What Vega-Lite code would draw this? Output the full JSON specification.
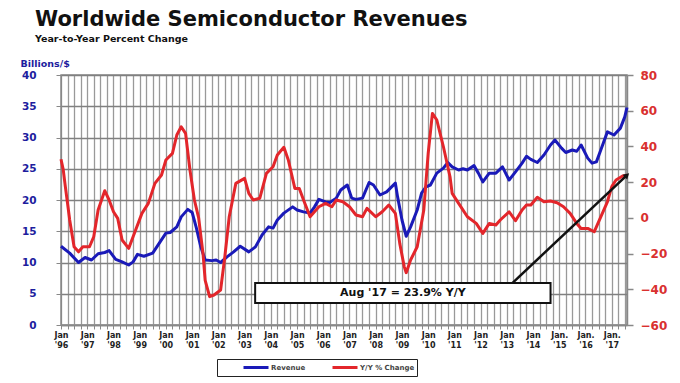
{
  "$schema": "https://vega.github.io/schema/vega-lite/v6.json",
  "autosize": "none",
  "width": 566,
  "height": 250,
  "padding": {"left": 61, "top": 75, "right": 53, "bottom": 58},
  "background": "white",
  "title": {
    "text": "Worldwide Semiconductor Revenues",
    "subtitle": "Year-to-Year Percent Change",
    "anchor": "start",
    "frame": "group",
    "dx": -26,
    "offset": 15,
    "font": "DejaVu Sans",
    "fontSize": 21,
    "fontWeight": "bold",
    "color": "#111111",
    "subtitleFont": "DejaVu Sans",
    "subtitleFontSize": 9.5,
    "subtitleFontWeight": "bold",
    "subtitleColor": "#111111",
    "subtitlePadding": 4
  },
  "config": {
    "view": {"stroke": "#888888", "strokeWidth": 1.5}
  },
  "datasets": {
    "revenue": [
      {"date": "1996-01", "value": 12.6}, {"date": "1996-05", "value": 11.5}, {"date": "1996-09", "value": 10.0}, {"date": "1996-12", "value": 10.8},
      {"date": "1997-03", "value": 10.4}, {"date": "1997-06", "value": 11.4}, {"date": "1997-09", "value": 11.6}, {"date": "1997-11", "value": 11.9},
      {"date": "1998-02", "value": 10.5}, {"date": "1998-05", "value": 10.1}, {"date": "1998-08", "value": 9.6}, {"date": "1998-10", "value": 10.1},
      {"date": "1998-12", "value": 11.3}, {"date": "1999-03", "value": 11.0}, {"date": "1999-07", "value": 11.5}, {"date": "1999-10", "value": 13.1},
      {"date": "2000-01", "value": 14.7}, {"date": "2000-03", "value": 14.8}, {"date": "2000-06", "value": 15.7}, {"date": "2000-08", "value": 17.3},
      {"date": "2000-11", "value": 18.5}, {"date": "2001-01", "value": 18.0}, {"date": "2001-03", "value": 15.5}, {"date": "2001-05", "value": 12.5},
      {"date": "2001-07", "value": 10.4}, {"date": "2001-10", "value": 10.3}, {"date": "2001-12", "value": 10.4}, {"date": "2002-02", "value": 10.0},
      {"date": "2002-05", "value": 10.9}, {"date": "2002-08", "value": 11.7}, {"date": "2002-11", "value": 12.6}, {"date": "2003-03", "value": 11.7},
      {"date": "2003-06", "value": 12.5}, {"date": "2003-09", "value": 14.4}, {"date": "2003-12", "value": 15.7}, {"date": "2004-02", "value": 15.5},
      {"date": "2004-04", "value": 16.8}, {"date": "2004-07", "value": 17.9}, {"date": "2004-11", "value": 18.9}, {"date": "2005-01", "value": 18.4},
      {"date": "2005-04", "value": 18.1}, {"date": "2005-07", "value": 17.9}, {"date": "2005-09", "value": 18.9}, {"date": "2005-11", "value": 20.1},
      {"date": "2006-02", "value": 19.7}, {"date": "2006-04", "value": 19.6}, {"date": "2006-07", "value": 20.3}, {"date": "2006-09", "value": 21.6},
      {"date": "2006-12", "value": 22.4}, {"date": "2007-02", "value": 20.3}, {"date": "2007-04", "value": 20.1}, {"date": "2007-07", "value": 20.3},
      {"date": "2007-10", "value": 22.8}, {"date": "2007-12", "value": 22.4}, {"date": "2008-03", "value": 20.8}, {"date": "2008-06", "value": 21.3},
      {"date": "2008-10", "value": 22.7}, {"date": "2008-11", "value": 20.5}, {"date": "2009-01", "value": 16.8}, {"date": "2009-03", "value": 14.2},
      {"date": "2009-05", "value": 15.7}, {"date": "2009-08", "value": 18.4}, {"date": "2009-10", "value": 21.1}, {"date": "2009-12", "value": 22.1},
      {"date": "2010-02", "value": 22.4}, {"date": "2010-05", "value": 24.3}, {"date": "2010-08", "value": 25.1}, {"date": "2010-10", "value": 26.0},
      {"date": "2010-12", "value": 25.3}, {"date": "2011-03", "value": 24.8}, {"date": "2011-05", "value": 25.0}, {"date": "2011-07", "value": 24.8},
      {"date": "2011-10", "value": 25.5}, {"date": "2011-12", "value": 24.3}, {"date": "2012-02", "value": 22.9}, {"date": "2012-05", "value": 24.3},
      {"date": "2012-08", "value": 24.3}, {"date": "2012-11", "value": 25.3}, {"date": "2013-02", "value": 23.2}, {"date": "2013-05", "value": 24.5},
      {"date": "2013-08", "value": 25.9}, {"date": "2013-10", "value": 27.0}, {"date": "2013-12", "value": 26.5}, {"date": "2014-03", "value": 26.0},
      {"date": "2014-06", "value": 27.2}, {"date": "2014-09", "value": 28.8}, {"date": "2014-11", "value": 29.6}, {"date": "2015-02", "value": 28.3},
      {"date": "2015-04", "value": 27.6}, {"date": "2015-07", "value": 28.0}, {"date": "2015-09", "value": 27.8}, {"date": "2015-11", "value": 28.8},
      {"date": "2016-02", "value": 26.7}, {"date": "2016-04", "value": 25.9}, {"date": "2016-06", "value": 26.1}, {"date": "2016-08", "value": 28.0},
      {"date": "2016-11", "value": 30.9}, {"date": "2017-02", "value": 30.4}, {"date": "2017-05", "value": 31.5}, {"date": "2017-07", "value": 33.3},
      {"date": "2017-08", "value": 34.8}
    ],
    "yoy": [
      {"date": "1996-01", "value": 32.8}, {"date": "1996-02", "value": 27.0}, {"date": "1996-03", "value": 17.6}, {"date": "1996-04", "value": 8.2},
      {"date": "1996-05", "value": -1.2}, {"date": "1996-07", "value": -16.2}, {"date": "1996-09", "value": -19.0}, {"date": "1996-11", "value": -16.2},
      {"date": "1997-02", "value": -16.2}, {"date": "1997-04", "value": -10.6}, {"date": "1997-06", "value": 4.4}, {"date": "1997-09", "value": 15.2},
      {"date": "1997-11", "value": 10.0}, {"date": "1998-01", "value": 3.4}, {"date": "1998-03", "value": -0.3}, {"date": "1998-05", "value": -12.4},
      {"date": "1998-08", "value": -17.1}, {"date": "1998-10", "value": -10.6}, {"date": "1999-02", "value": 2.5}, {"date": "1999-05", "value": 8.1},
      {"date": "1999-08", "value": 19.3}, {"date": "1999-11", "value": 24.0}, {"date": "2000-01", "value": 32.4}, {"date": "2000-04", "value": 36.1},
      {"date": "2000-06", "value": 46.4}, {"date": "2000-08", "value": 51.0}, {"date": "2000-10", "value": 47.3}, {"date": "2000-12", "value": 26.8},
      {"date": "2001-02", "value": 10.0}, {"date": "2001-04", "value": 0.0}, {"date": "2001-06", "value": -20.0}, {"date": "2001-07", "value": -35.0},
      {"date": "2001-09", "value": -44.1}, {"date": "2001-11", "value": -43.2}, {"date": "2002-02", "value": -40.4}, {"date": "2002-04", "value": -21.7},
      {"date": "2002-06", "value": 0.6}, {"date": "2002-09", "value": 19.3}, {"date": "2003-01", "value": 22.1}, {"date": "2003-03", "value": 13.7},
      {"date": "2003-05", "value": 10.0}, {"date": "2003-08", "value": 11.0}, {"date": "2003-11", "value": 24.9}, {"date": "2004-02", "value": 28.6},
      {"date": "2004-04", "value": 35.2}, {"date": "2004-07", "value": 39.5}, {"date": "2004-09", "value": 32.4}, {"date": "2004-12", "value": 16.5},
      {"date": "2005-02", "value": 16.5}, {"date": "2005-04", "value": 10.0}, {"date": "2005-07", "value": 0.6}, {"date": "2005-11", "value": 6.2},
      {"date": "2006-02", "value": 8.1}, {"date": "2006-05", "value": 6.2}, {"date": "2006-07", "value": 10.0}, {"date": "2006-10", "value": 9.0},
      {"date": "2007-01", "value": 6.2}, {"date": "2007-04", "value": 1.6}, {"date": "2007-07", "value": 0.6}, {"date": "2007-09", "value": 5.3},
      {"date": "2008-01", "value": 0.6}, {"date": "2008-04", "value": 3.4}, {"date": "2008-07", "value": 7.2}, {"date": "2008-10", "value": 2.5},
      {"date": "2008-12", "value": -14.3}, {"date": "2009-02", "value": -27.3}, {"date": "2009-03", "value": -30.7}, {"date": "2009-05", "value": -23.6},
      {"date": "2009-08", "value": -16.2}, {"date": "2009-11", "value": 4.4}, {"date": "2010-01", "value": 36.1}, {"date": "2010-03", "value": 58.5},
      {"date": "2010-05", "value": 54.8}, {"date": "2010-08", "value": 39.8}, {"date": "2010-11", "value": 23.0}, {"date": "2010-12", "value": 13.7},
      {"date": "2011-03", "value": 8.1}, {"date": "2011-07", "value": 0.6}, {"date": "2011-11", "value": -3.1}, {"date": "2012-02", "value": -8.7},
      {"date": "2012-05", "value": -3.1}, {"date": "2012-08", "value": -4.0}, {"date": "2012-10", "value": -1.2}, {"date": "2013-02", "value": 3.4},
      {"date": "2013-05", "value": -1.6}, {"date": "2013-08", "value": 4.4}, {"date": "2013-10", "value": 7.2}, {"date": "2013-12", "value": 7.2},
      {"date": "2014-03", "value": 11.5}, {"date": "2014-06", "value": 9.0}, {"date": "2014-09", "value": 9.4}, {"date": "2014-12", "value": 8.5},
      {"date": "2015-03", "value": 6.2}, {"date": "2015-06", "value": 2.5}, {"date": "2015-09", "value": -3.1}, {"date": "2015-11", "value": -5.9},
      {"date": "2016-02", "value": -5.9}, {"date": "2016-05", "value": -7.8}, {"date": "2016-08", "value": 0.6}, {"date": "2016-11", "value": 9.0},
      {"date": "2017-01", "value": 17.5}, {"date": "2017-03", "value": 21.2}, {"date": "2017-06", "value": 23.4}, {"date": "2017-08", "value": 23.9}
    ],
    "note": [
      {"label": "Aug '17 = 23.9% Y/Y", "date": "2017-08", "value": 23.9}
    ]
  },
  "layer": [
    {
      "data": {"name": "revenue"},
      "mark": {"type": "line", "strokeWidth": 3, "strokeJoin": "round"},
      "encoding": {
        "x": {
          "field": "date",
          "type": "temporal",
          "scale": {"type": "utc", "domain": [{"year": 1996, "month": 1, "date": 1, "utc": true}, {"year": 2017, "month": 8, "date": 1, "utc": true}], "nice": false},
          "axis": {
            "title": null,
            "tickCount": {"interval": "month", "step": 3},
            "grid": true,
            "gridColor": "#999999",
            "gridWidth": 1.3,
            "tickColor": "#888888",
            "tickSize": 4,
            "domainColor": "#888888",
            "domainWidth": 1.5,
            "labelExpr": "utcmonth(datum.value) == 0 ? [utcyear(datum.value) >= 2015 ? 'Jan.' : 'Jan', \"'\" + utcFormat(datum.value, '%y')] : ''",
            "labelFont": "DejaVu Sans",
            "labelFontWeight": "bold",
            "labelFontSize": 8,
            "labelColor": "#222222",
            "labelLineHeight": 10,
            "labelPadding": 2,
            "labelOverlap": false,
            "labelFlush": false,
            "labelBaseline": "top"
          }
        },
        "y": {
          "field": "value",
          "type": "quantitative",
          "scale": {"domain": [0, 40], "nice": false},
          "axis": {
            "values": [0, 5, 10, 15, 20, 25, 30, 35, 40],
            "grid": true,
            "gridColor": "#808080",
            "gridWidth": 1.5,
            "domainColor": "#888888",
            "tickColor": "#888888",
            "tickSize": 5,
            "labelOverlap": false,
            "labelFont": "DejaVu Sans",
            "labelFontWeight": "bold",
            "labelFontSize": 10.5,
            "labelColor": "#1d1d9e",
            "labelPadding": 20,
            "title": "Billions/$",
            "titleAngle": 0,
            "titleX": -41,
            "titleY": -9,
            "titleAlign": "left",
            "titleBaseline": "alphabetic",
            "titleFont": "DejaVu Sans",
            "titleFontSize": 9.5,
            "titleFontWeight": "bold",
            "titleColor": "#1d1d9e"
          }
        },
        "color": {
          "datum": "Revenue",
          "type": "nominal",
          "scale": {"domain": ["Revenue", "Y/Y % Change"], "range": ["#1a1ab8", "#e3262b"]},
          "legend": {
            "orient": "none",
            "legendX": 156,
            "legendY": 284,
            "direction": "horizontal",
            "title": null,
            "symbolType": "stroke",
            "symbolStrokeWidth": 3,
            "symbolSize": 625,
            "clipHeight": 13,
            "symbolOffset": 23,
            "labelOffset": 1,
            "labelExpr": "datum.label == 'Y/Y % Change' ? datum.label + '         ' : datum.label",
            "labelFont": "DejaVu Sans",
            "labelFontWeight": "bold",
            "labelFontSize": 7,
            "labelColor": "#444444",
            "columnPadding": 2,
            "padding": 2,
            "strokeColor": "#222222",
            "fillColor": "white"
          }
        }
      }
    },
    {
      "layer": [
        {
          "data": {"name": "yoy"},
          "mark": {"type": "line", "strokeWidth": 3, "strokeJoin": "round"},
          "encoding": {
            "x": {"field": "date", "type": "temporal"},
            "y": {
              "field": "value",
              "type": "quantitative",
              "scale": {"domain": [-60, 80], "nice": false},
              "axis": {
                "orient": "right",
                "values": [-60, -40, -20, 0, 20, 40, 60, 80],
                "grid": false,
                "labelOverlap": false,
                "domainColor": "#888888",
                "domainWidth": 1.5,
                "tickColor": "#888888",
                "tickWidth": 1.5,
                "tickSize": 6,
                "labelFont": "DejaVu Sans",
                "labelFontWeight": "bold",
                "labelFontSize": 12,
                "labelColor": "#d9302f",
                "labelPadding": 7,
                "title": null
              }
            },
            "color": {"datum": "Y/Y % Change", "type": "nominal"}
          }
        },
        {
          "data": {"name": "note"},
          "layer": [
            {
              "mark": {"type": "rect", "fill": "white", "stroke": "#111111", "strokeWidth": 2},
              "encoding": {
                "x": {"datum": {"year": 2003, "month": 5, "date": 28, "utc": true}, "type": "temporal"},
                "x2": {"datum": {"year": 2014, "month": 9, "date": 1, "utc": true}},
                "y": {"datum": -36.5, "type": "quantitative", "axis": null},
                "y2": {"datum": -47.7}
              }
            },
            {
              "mark": {"type": "text", "font": "DejaVu Sans", "fontWeight": "bold", "fontSize": 11, "color": "#111111", "align": "center", "baseline": "middle"},
              "encoding": {
                "x": {"datum": {"year": 2009, "month": 1, "date": 13, "utc": true}, "type": "temporal"},
                "y": {"datum": -42.1, "type": "quantitative", "axis": null},
                "text": {"field": "label"}
              }
            },
            {
              "mark": {"type": "rule", "color": "#111111", "strokeWidth": 2.5},
              "encoding": {
                "x": {"field": "date", "type": "temporal"},
                "y": {"field": "value", "type": "quantitative", "axis": null},
                "x2": {"datum": {"year": 2013, "month": 3, "date": 18, "utc": true}},
                "y2": {"datum": -36.5}
              }
            },
            {
              "mark": {"type": "point", "shape": "triangle-up", "filled": true, "color": "#111111", "size": 45, "angle": 47, "opacity": 1},
              "encoding": {
                "x": {"field": "date", "type": "temporal"},
                "y": {"field": "value", "type": "quantitative", "axis": null}
              }
            }
          ],
          "resolve": {"axis": {"y": "independent"}}
        }
      ],
      "resolve": {"axis": {"y": "independent"}}
    }
  ],
  "resolve": {"scale": {"y": "independent"}}
}
